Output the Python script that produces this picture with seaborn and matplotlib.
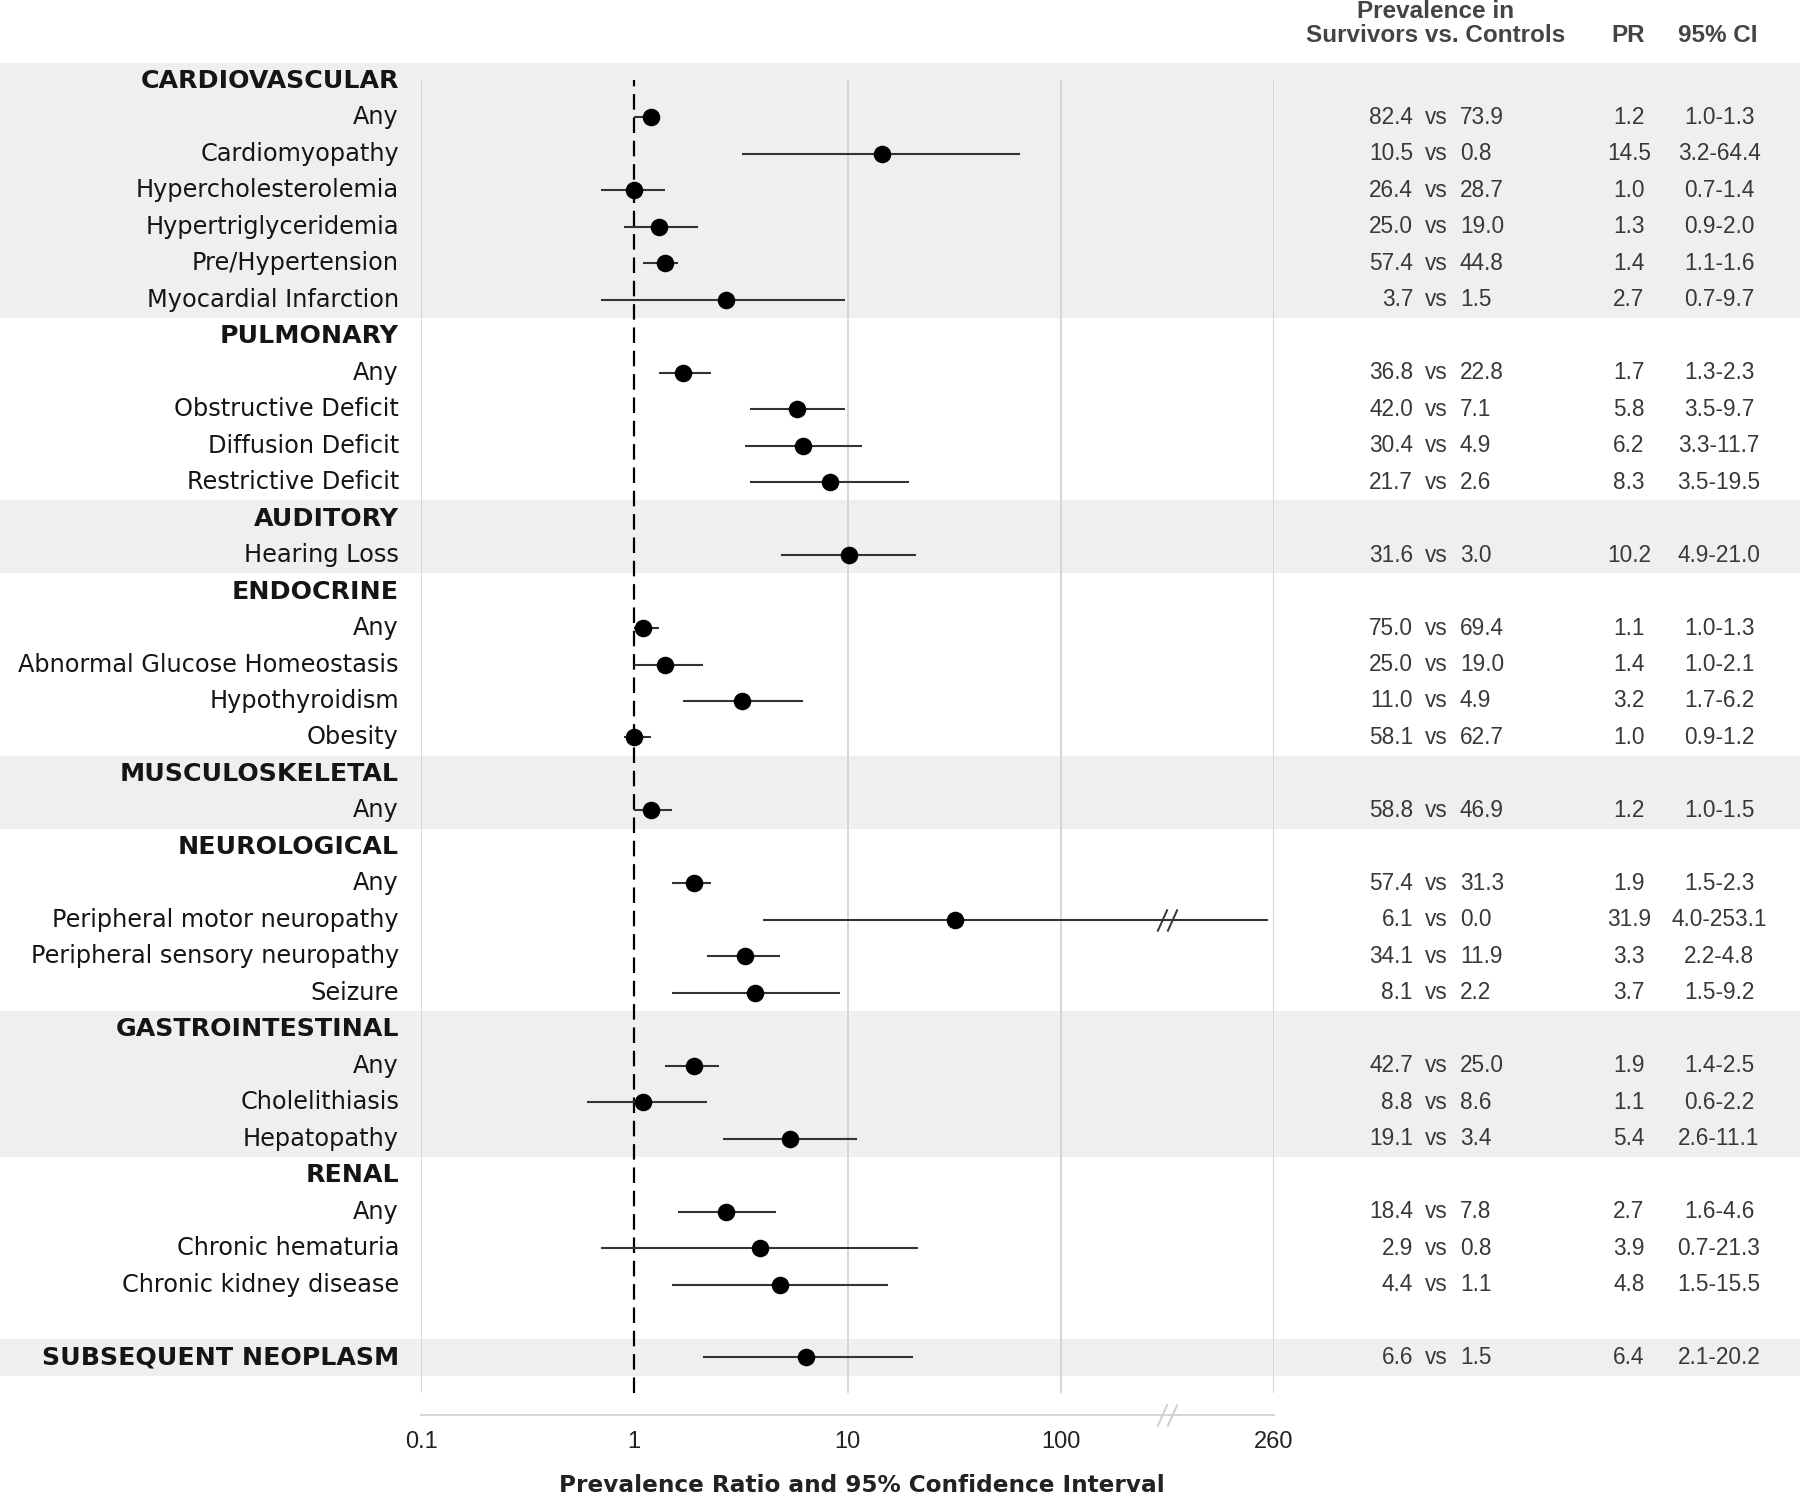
import numpy as np
import pandas as pd
import matplotlib.pyplot as plt
import seaborn as sns

# rows of the forest plot, top to bottom ('' = spacer row)
row_labels = [
    'CARDIOVASCULAR', 'Any', 'Cardiomyopathy', 'Hypercholesterolemia', 'Hypertriglyceridemia',
    'Pre/Hypertension', 'Myocardial Infarction',
    'PULMONARY', 'Any', 'Obstructive Deficit', 'Diffusion Deficit', 'Restrictive Deficit',
    'AUDITORY', 'Hearing Loss',
    'ENDOCRINE', 'Any', 'Abnormal Glucose Homeostasis', 'Hypothyroidism', 'Obesity',
    'MUSCULOSKELETAL', 'Any',
    'NEUROLOGICAL', 'Any', 'Peripheral motor neuropathy', 'Peripheral sensory neuropathy', 'Seizure',
    'GASTROINTESTINAL', 'Any', 'Cholelithiasis', 'Hepatopathy',
    'RENAL', 'Any', 'Chronic hematuria', 'Chronic kidney disease',
    '', 'SUBSEQUENT NEOPLASM',
]
header_rows = [0, 7, 12, 14, 19, 21, 26, 30, 35]
nan = np.nan
survivors = [nan, 82.4, 10.5, 26.4, 25.0, 57.4, 3.7,
             nan, 36.8, 42.0, 30.4, 21.7,
             nan, 31.6,
             nan, 75.0, 25.0, 11.0, 58.1,
             nan, 58.8,
             nan, 57.4, 6.1, 34.1, 8.1,
             nan, 42.7, 8.8, 19.1,
             nan, 18.4, 2.9, 4.4,
             nan, 6.6]
controls = [nan, 73.9, 0.8, 28.7, 19.0, 44.8, 1.5,
            nan, 22.8, 7.1, 4.9, 2.6,
            nan, 3.0,
            nan, 69.4, 19.0, 4.9, 62.7,
            nan, 46.9,
            nan, 31.3, 0.0, 11.9, 2.2,
            nan, 25.0, 8.6, 3.4,
            nan, 7.8, 0.8, 1.1,
            nan, 1.5]
pr = [nan, 1.2, 14.5, 1.0, 1.3, 1.4, 2.7,
      nan, 1.7, 5.8, 6.2, 8.3,
      nan, 10.2,
      nan, 1.1, 1.4, 3.2, 1.0,
      nan, 1.2,
      nan, 1.9, 31.9, 3.3, 3.7,
      nan, 1.9, 1.1, 5.4,
      nan, 2.7, 3.9, 4.8,
      nan, 6.4]
ci_low = [nan, 1.0, 3.2, 0.7, 0.9, 1.1, 0.7,
          nan, 1.3, 3.5, 3.3, 3.5,
          nan, 4.9,
          nan, 1.0, 1.0, 1.7, 0.9,
          nan, 1.0,
          nan, 1.5, 4.0, 2.2, 1.5,
          nan, 1.4, 0.6, 2.6,
          nan, 1.6, 0.7, 1.5,
          nan, 2.1]
ci_high = [nan, 1.3, 64.4, 1.4, 2.0, 1.6, 9.7,
           nan, 2.3, 9.7, 11.7, 19.5,
           nan, 21.0,
           nan, 1.3, 2.1, 6.2, 1.2,
           nan, 1.5,
           nan, 2.3, 253.1, 4.8, 9.2,
           nan, 2.5, 2.2, 11.1,
           nan, 4.6, 21.3, 15.5,
           nan, 20.2]
shaded_groups = [(0, 6), (12, 13), (19, 20), (26, 29), (35, 35)]
tick_values = [0.1, 1, 10, 100, 1000]
tick_labels = ['0.1', '1', '10', '100', '260']

W, H = 1800, 1497
ROW0, ROWH = 81, 36.47


def row_y(i):
    return ROW0 + ROWH * np.asarray(i, dtype=float)


def broken_axis(v):
    # values above 100 are squeezed so that 260 sits where 1000 would be
    v = np.asarray(v, dtype=float)
    return np.where(v > 100, 100 * 10 ** (np.log10(v / 100) / np.log10(2.6)), v)


df = pd.DataFrame({'label': row_labels, 'surv': survivors, 'ctrl': controls,
                   'pr': pr, 'lo': ci_low, 'hi': ci_high})
df['y'] = row_y(np.arange(len(df)))
df['hi_plot'] = broken_axis(df['hi'])
est = df.dropna(subset=['pr'])

sns.set_style('white')
plt.rcParams['font.family'] = ['Liberation Sans', 'DejaVu Sans']

fig = plt.figure(figsize=(W / 100, H / 100), dpi=100)

# background layer in pixel units: shaded bands + all table text
bg = fig.add_axes([0, 0, 1, 1])
bg.set_xlim(0, W)
bg.set_ylim(H, 0)
bg.axis('off')
for a, b in shaded_groups:
    bg.axhspan(row_y(a - 0.5), row_y(b + 0.5), color='#efefef', lw=0, zorder=0)

for i, r in df.iterrows():
    if r['label'] == '':
        continue
    bold = i in header_rows
    bg.text(399, r['y'], r['label'], ha='right', va='center',
            fontsize=18.2 if bold else 17.3, family='DejaVu Sans',
            fontweight='bold' if bold else 'normal', color='#151515')

num_kw = dict(va='center', fontsize=16.3, color='#383838')
for _, r in est.iterrows():
    bg.text(1413, r['y'], f"{r['surv']:.1f}", ha='right', **num_kw)
    bg.text(1436, r['y'], 'vs', ha='center', **num_kw)
    bg.text(1460, r['y'], f"{r['ctrl']:.1f}", ha='left', **num_kw)
    bg.text(1629, r['y'], f"{r['pr']:.1f}", ha='center', **num_kw)
    bg.text(1719, r['y'], f"{r['lo']:.1f}-{r['hi']:.1f}", ha='center', **num_kw)

head_kw = dict(va='center', ha='center', fontsize=17.5, fontweight='bold', color='#444444')
bg.text(1436, 12, 'Prevalence in', **head_kw)
bg.text(1436, 36, 'Survivors vs. Controls', **head_kw)
bg.text(1628, 36, 'PR', **head_kw)
bg.text(1718, 36, '95% CI', **head_kw)

# forest plot axes, y in the same pixel units as the background
x0, x1, y_top, y_bot = 421, 1274, 80, 1393
ax = fig.add_axes([x0 / W, (H - y_bot) / H, (x1 - x0) / W, (y_bot - y_top) / H])
ax.patch.set_alpha(0)
ax.set_xscale('log')
ax.set_xlim(0.1, 1000)
ax.set_ylim(y_bot, y_top)
ax.minorticks_off()

for t in tick_values:
    if t == 1:
        ax.axvline(t, color='black', lw=1.6, ls=(0, (7, 3.5)), zorder=2)
    else:
        ax.axvline(t, color='#d6d6d6', lw=1.4, zorder=1)

ax.hlines(est['y'], est['lo'], est['hi_plot'], color='#333333', lw=1.5, zorder=3)
sns.scatterplot(x=est['pr'], y=est['y'], ax=ax, color='black', s=160,
                edgecolor='black', linewidth=0, zorder=4, legend=False)

# axis break marks on the long interval and on the axis line
slash = [(-0.45, -1), (0.45, 1)]
brk = 10 ** 2.5
pmn_y = est.loc[est['hi'] > 100, 'y'].values
for dx in (-0.024, 0.024):
    ax.plot([brk * 10 ** dx] * len(pmn_y), pmn_y, ls='none', marker=slash,
            markersize=16, mew=1.4, color='#333333', zorder=5)
    ax.plot([brk * 10 ** dx], [1415], ls='none', marker=slash, markersize=16,
            mew=1.4, color='#cfcfcf', clip_on=False, zorder=5)

ax.set_xticks(tick_values)
ax.set_xticklabels(tick_labels)
ax.set_yticks([])
ax.tick_params(axis='x', length=0, labelsize=17, pad=11, labelcolor='#222222')
for s in ['left', 'right', 'top']:
    ax.spines[s].set_visible(False)
ax.spines['bottom'].set_position(('outward', 16))
ax.spines['bottom'].set_color('#d6d6d6')
ax.spines['bottom'].set_linewidth(1.4)
ax.set_xlabel('')
ax.set_ylabel('')

bg.text(862, 1486, 'Prevalence Ratio and 95% Confidence Interval', ha='center', va='center',
        fontsize=16.7, fontweight='bold', family='DejaVu Sans', color='#222222')

fig.savefig('out.png', dpi=100)
